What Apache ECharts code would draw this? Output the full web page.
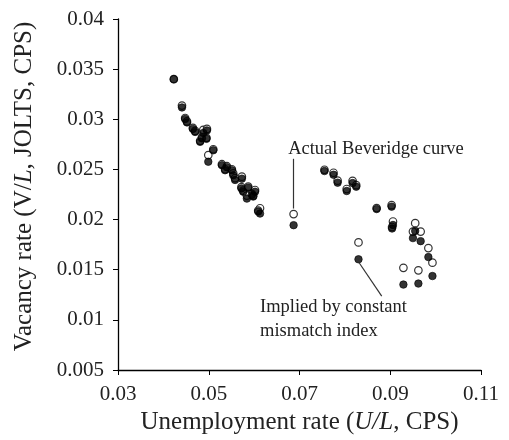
<!DOCTYPE html>
<html>
<head>
<meta charset="utf-8">
<script src="https://cdn.jsdelivr.net/npm/echarts@6/dist/echarts.min.js"></script>
<style>
  html, body { margin: 0; padding: 0; background: #fff; }
  #chartBox { width: 509px; height: 440px; }
</style>
</head>
<body>
<div id="chartBox"></div>
<script>
// unemployment rate (U/L, CPS), one entry per month
var unemp = [
  0.0423, 0.0441, 0.0448, 0.0452, 0.0465, 0.0470, 0.0481, 0.0485, 0.0488, 0.0496,
  0.0495, 0.0499, 0.0510, 0.0529, 0.0540, 0.0536, 0.0551, 0.0554, 0.0558, 0.0573,
  0.0572, 0.0576, 0.0587, 0.0602, 0.0595, 0.0584, 0.0598, 0.0613, 0.0609, 0.0687,
  0.0755, 0.0775, 0.0784, 0.0804, 0.0817, 0.0825, 0.0870, 0.0903, 0.0906, 0.0904,
  0.0955, 0.0950, 0.0967, 0.0984, 0.0993, 0.0962, 0.0929, 0.0830
];
// actual vacancy rate (hollow circles)
var actualVac = [
  0.0340, 0.03137, 0.03013, 0.02979, 0.02914, 0.02884, 0.02785, 0.02820, 0.02894, 0.02904,
  0.02815, 0.02643, 0.02701, 0.02552, 0.02532, 0.02502, 0.02502, 0.02460, 0.02413, 0.02428,
  0.02323, 0.02288, 0.02328, 0.02295, 0.02256, 0.02239, 0.02239, 0.02113, 0.02090, 0.02055,
  0.02497, 0.02467, 0.02388, 0.02305, 0.02386, 0.02343, 0.02115, 0.02144, 0.01981, 0.01926,
  0.01964, 0.01880, 0.01880, 0.01716, 0.01570, 0.01494, 0.01519, 0.01772
];
// vacancy rate implied by constant mismatch index (filled circles)
var impliedVac = [
  0.0340, 0.03118, 0.03003, 0.02969, 0.02904, 0.02874, 0.02775, 0.02810, 0.02864, 0.02889,
  0.02805, 0.02577, 0.02691, 0.02542, 0.02522, 0.02492, 0.02492, 0.02442, 0.02395, 0.02408,
  0.02311, 0.02278, 0.02318, 0.02278, 0.02246, 0.02209, 0.02229, 0.02060, 0.02080, 0.01944,
  0.02484, 0.02447, 0.02368, 0.02285, 0.02364, 0.02328, 0.02105, 0.02129, 0.01946, 0.01911,
  0.01887, 0.01815, 0.01785, 0.01626, 0.01437, 0.01362, 0.01352, 0.01604
];

// leader lines for the two labels (data units)
var actualLeader = [[0.06868, 0.02606], [0.06868, 0.02110]];
var impliedLeader = [[0.08318, 0.01567], [0.08812, 0.01236]];
var actualLabelAt = [0.0675, 0.02706];
var impliedLabelAt = [0.0613, 0.01008];

var font = "Liberation Serif";

function pairs(xs, ys) {
  var out = [];
  for (var i = 0; i < xs.length; i++) {
    out.push([xs[i], ys[i]]);
  }
  return out;
}

function fmt(v) {
  return String(parseFloat(v.toFixed(4)));
}

var titleRich = {
  n: { fontFamily: font, fontSize: 25, color: "#222" },
  i: { fontFamily: font, fontSize: 25, fontStyle: "italic", color: "#222" }
};

var option = {
  animation: false,
  grid: { left: 118, right: 28, top: 19, bottom: 70 },
  xAxis: {
    type: "value",
    min: 0.03,
    max: 0.11,
    interval: 0.02,
    name: "{n|Unemployment rate (}{i|U/L}{n|, CPS)}",
    nameLocation: "middle",
    nameGap: 39,
    nameTextStyle: { rich: titleRich },
    axisLine: { lineStyle: { color: "#000", width: 1.3 } },
    axisTick: { show: true, length: 5, lineStyle: { color: "#000" } },
    axisLabel: { fontFamily: font, fontSize: 21, color: "#222", margin: 14, formatter: fmt },
    splitLine: { show: false }
  },
  yAxis: {
    type: "value",
    min: 0.005,
    max: 0.04,
    interval: 0.005,
    name: "{n|Vacancy rate (V/}{i|L}{n|, JOLTS, CPS)}",
    nameLocation: "middle",
    nameGap: 81,
    nameTextStyle: { rich: titleRich, padding: [0, 0, 0, 16] },
    axisLine: { show: true, lineStyle: { color: "#000", width: 1.3 } },
    axisTick: { show: true, length: 5, lineStyle: { color: "#000" } },
    axisLabel: { fontFamily: font, fontSize: 21, color: "#222", margin: 14, formatter: fmt },
    splitLine: { show: false }
  },
  series: [
    {
      name: "Actual",
      type: "scatter",
      data: pairs(unemp, actualVac),
      symbol: "circle",
      symbolSize: 7.5,
      itemStyle: { color: "#fff", borderColor: "#000", borderWidth: 1.2 },
      z: 2,
      markLine: {
        silent: true,
        symbol: ["none", "none"],
        label: { show: false },
        lineStyle: { color: "#333", width: 1.2, type: "solid" },
        data: [
          [{ coord: actualLeader[0] }, { coord: actualLeader[1] }],
          [{ coord: impliedLeader[0] }, { coord: impliedLeader[1] }]
        ]
      }
    },
    {
      name: "Implied",
      type: "scatter",
      data: pairs(unemp, impliedVac),
      symbol: "circle",
      symbolSize: 7.5,
      itemStyle: { color: "#000", borderColor: "#000", borderWidth: 0.8 },
      z: 3
    }
  ]
};

var chart = echarts.init(document.getElementById("chartBox"), null, { renderer: "canvas" });
chart.setOption(option);

// annotation text placed through the axes
var p1 = chart.convertToPixel({ gridIndex: 0 }, actualLabelAt);
var p2 = chart.convertToPixel({ gridIndex: 0 }, impliedLabelAt);
chart.setOption({
  graphic: [
    {
      type: "text",
      x: p1[0],
      y: p1[1],
      style: {
        text: "Actual Beveridge curve",
        font: "18.5px " + font,
        fill: "#222",
        textVerticalAlign: "middle"
      }
    },
    {
      type: "text",
      x: p2[0],
      y: p2[1],
      style: {
        text: "Implied by constant\nmismatch index",
        font: "18.5px " + font,
        fill: "#222",
        lineHeight: 24,
        textVerticalAlign: "middle"
      }
    }
  ]
});
</script>
</body>
</html>
